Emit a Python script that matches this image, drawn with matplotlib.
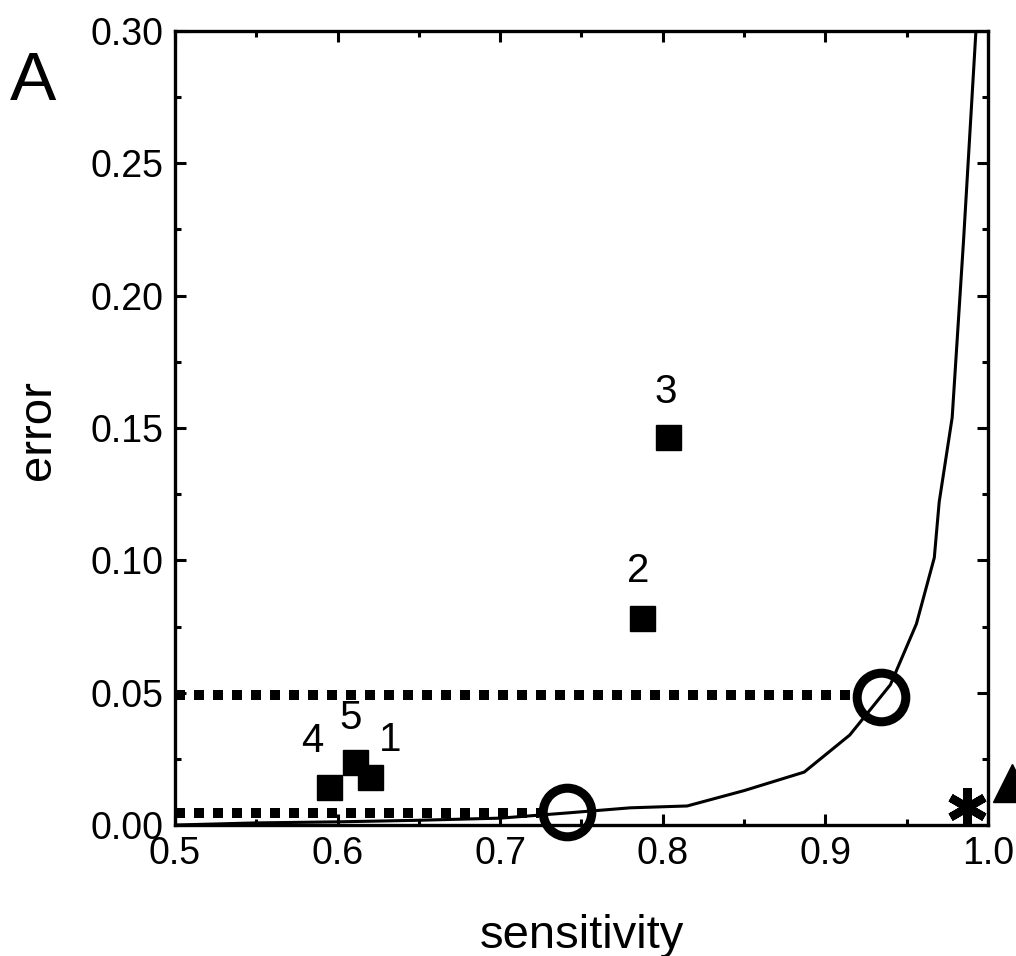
import matplotlib
matplotlib.use("Agg")
import matplotlib.pyplot as plt
from matplotlib.ticker import MultipleLocator

plt.rcParams["font.family"] = ["Liberation Sans", "DejaVu Sans"]

# curve: error vs sensitivity
curve_x = [0.50, 0.55, 0.60, 0.65, 0.70, 0.74, 0.78, 0.815, 0.85, 0.887,
           0.915, 0.94, 0.956, 0.967, 0.970, 0.978, 0.985, 0.9926]
curve_y = [0.000, 0.0008, 0.0012, 0.0018, 0.0026, 0.0045, 0.0065, 0.0072, 0.013, 0.020,
           0.034, 0.053, 0.076, 0.101, 0.122, 0.154, 0.221, 0.30]

# numbered points
point_labels = ["1", "2", "3", "4", "5"]
point_x = [0.620, 0.787, 0.803, 0.595, 0.611]
point_y = [0.0181, 0.0782, 0.1466, 0.0144, 0.0238]
label_offsets = [(20, 37), (-3, 47), (-2, 45), (-17, 46), (-5, 44)]

# highlighted operating points and guide lines
circle_x = [0.741, 0.934]
circle_y = [0.0049, 0.0484]
guide_y = [0.0045, 0.049]
guide_end = [0.724, 0.916]

star_x, star_y = 0.987, 0.0068
tri_x, tri_y = 1.0148, 0.0159

fig = plt.figure(figsize=(10.16, 9.56), dpi=100)
ax = fig.add_axes([0.1722, 0.137, 0.8002, 0.8306])

ax.plot(curve_x, curve_y, color="black", lw=2.2, zorder=3)

for gy, ge in zip(guide_y, guide_end):
    ax.plot([0.5, ge], [gy, gy], color="black", lw=7.2,
            linestyle=(0, (1, 0.9)), dash_capstyle="butt", zorder=2, clip_on=False)

ax.plot(circle_x, circle_y, linestyle="none", marker="o", ms=35,
        mfc="none", mec="black", mew=6.5, clip_on=False, zorder=4)

ax.plot(point_x, point_y, linestyle="none", marker="s", ms=18,
        color="black", zorder=4)
for lab, px, py, off in zip(point_labels, point_x, point_y, label_offsets):
    ax.annotate(lab, (px, py), xytext=off, textcoords="offset pixels",
                ha="center", va="center", fontsize=29)

ax.plot([star_x], [star_y], linestyle="none", marker=(6, 2, 0), ms=28,
        mec="black", mew=6, zorder=5, clip_on=False)
ax.plot([tri_x], [tri_y], linestyle="none", marker="^", ms=27,
        color="black", zorder=5, clip_on=False)

ax.set_xlim(0.5, 1.0)
ax.set_ylim(0.0, 0.30)
ax.xaxis.set_major_locator(MultipleLocator(0.1))
ax.xaxis.set_minor_locator(MultipleLocator(0.05))
ax.yaxis.set_major_locator(MultipleLocator(0.05))
ax.yaxis.set_minor_locator(MultipleLocator(0.025))
ax.xaxis.set_major_formatter(plt.FuncFormatter(lambda v, p: f"{v:.1f}"))
ax.yaxis.set_major_formatter(plt.FuncFormatter(lambda v, p: f"{v:.2f}"))

ax.tick_params(which="both", direction="in", top=True, right=True, width=2.2)
ax.tick_params(which="major", length=8, labelsize=27, pad=8)
ax.tick_params(which="minor", length=4.5)
for sp in ax.spines.values():
    sp.set_linewidth(2.4)

ax.set_xlabel("sensitivity", fontsize=34, labelpad=30)
ax.set_ylabel("error", fontsize=34)
ax.yaxis.set_label_coords(-0.142, 0.497)

fig.text(33 / 1016, 1 - 82 / 956, "A", fontsize=50, ha="center", va="center")

fig.savefig("out.png", dpi=100)
